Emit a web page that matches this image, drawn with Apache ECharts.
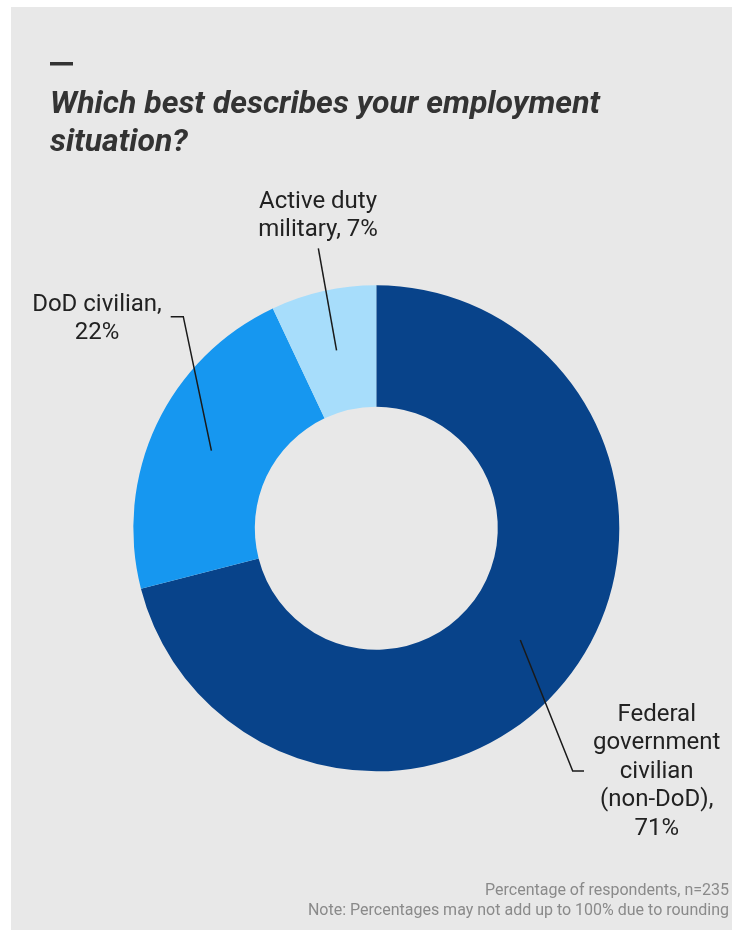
<!DOCTYPE html>
<html>
<head>
<meta charset="utf-8">
<script src="https://cdn.jsdelivr.net/npm/echarts@6/dist/echarts.min.js"></script>
<style>
html,body{margin:0;padding:0;background:#fff;}
#chart{width:732px;height:930px;}
</style>
</head>
<body>
<div id="chart"></div>
<script>
// ---- data ----
var categories = ['Federal\ngovernment\ncivilian\n(non-DoD)', 'DoD civilian', 'Active duty\nmilitary'];
var values = [71, 22, 7];
var valueSeparators = ['\n', '\n', ' '];
var colors = ['#08438a', '#1697f0', '#a7ddfb'];
var titleText = 'Which best describes your employment\nsituation?';
var footerLines = ['Percentage of respondents, n=235', 'Note: Percentages may not add up to 100% due to rounding'];

// ---- layout constants (label placement relative to slice anchors) ----
var CENTER = [376.3, 528.3];
var RADII = [121.5, 243];
var elbowOffsets = [[52.4, 131], [-28.1, -134], [-18.2, -102.1]];
var tailLengths = [11.3, -12.6, 0];
var textOffsets = [[72.7, 0.5], [-73.7, 2.1], [-0.3, -32.3]];

var chart = echarts.init(document.getElementById('chart'), null, {renderer: 'canvas'});

var pieData = categories.map(function (c, i) {
  return {name: c, value: values[i], itemStyle: {color: colors[i]}};
});
var labelData = categories.map(function (c, i) {
  return {name: c, value: values[i]};
});

var option = {
  backgroundColor: '#ffffff',
  animation: false,
  graphic: [
    {type: 'rect', z: -10, shape: {x: 11, y: 7, width: 721, height: 923}, style: {fill: '#e8e8e8'}},
    {type: 'rect', shape: {x: 50, y: 62, width: 23, height: 3.5}, style: {fill: '#333333'}},
    {type: 'text', style: {text: footerLines[0], x: 729, y: 890.5, align: 'right', verticalAlign: 'middle',
      fill: '#8a8a8a', font: '16px Roboto'}},
    {type: 'text', style: {text: footerLines[1], x: 729, y: 910.5, align: 'right', verticalAlign: 'middle',
      fill: '#8a8a8a', font: '16px Roboto'}}
  ],
  title: {
    text: titleText,
    left: 45,
    top: 81,
    textStyle: {
      fontFamily: 'Roboto',
      fontSize: 32,
      fontWeight: 'bold',
      fontStyle: 'italic',
      color: '#333333',
      lineHeight: 38
    }
  },
  series: [{
    type: 'pie',
    z: 2,
    center: CENTER,
    radius: RADII,
    startAngle: 90,
    clockwise: true,
    silent: true,
    data: pieData,
    itemStyle: {borderWidth: 0},
    label: {show: false},
    labelLine: {show: false}
  }, {
    type: 'pie',
    z: 5,
    center: CENTER,
    radius: RADII,
    startAngle: 90,
    clockwise: true,
    avoidLabelOverlap: false,
    silent: true,
    data: labelData,
    itemStyle: {color: 'rgba(0,0,0,0)', borderWidth: 0},
    label: {
      show: true,
      position: 'outside',
      fontFamily: 'Roboto',
      fontSize: 24,
      lineHeight: 28.5,
      color: '#222222',
      formatter: function (p) {
        return p.name + ',' + valueSeparators[p.dataIndex] + p.value + '%';
      }
    },
    labelLine: {
      show: true,
      length: 20,
      length2: 10,
      lineStyle: {color: '#1a1a1a', width: 1.5}
    },
    labelLayout: function (params) {
      var i = params.dataIndex;
      var p0 = params.labelLinePoints[0];
      var k = (RADII[0] + RADII[1]) / 2 / RADII[1];
      var anchor = [CENTER[0] + (p0[0] - CENTER[0]) * k, CENTER[1] + (p0[1] - CENTER[1]) * k];
      var elbow = [anchor[0] + elbowOffsets[i][0], anchor[1] + elbowOffsets[i][1]];
      var end = [elbow[0] + tailLengths[i], elbow[1]];
      return {
        x: end[0] + textOffsets[i][0],
        y: end[1] + textOffsets[i][1],
        align: 'center',
        verticalAlign: 'middle',
        labelLinePoints: [anchor, elbow, end]
      };
    }
  }]
};

chart.setOption(option);
</script>
</body>
</html>
